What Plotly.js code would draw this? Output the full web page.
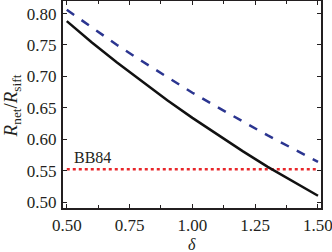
<!DOCTYPE html>
<html><head><meta charset="utf-8">
<script src="https://cdn.plot.ly/plotly-3.0.1.min.js"></script>
<style>html,body{margin:0;padding:0;background:#fff;}#c{width:332px;height:252px;}</style>
</head><body><div id="c"></div>
<script>
const delta = [0.5,0.6,0.7,0.8,0.9,1.0,1.1,1.2,1.3,1.4,1.5];
const solidNet = [0.788,0.754,0.722,0.692,0.662,0.634,0.607,0.581,0.556,0.533,0.510];
const dashedNet = [0.806,0.778,0.750,0.724,0.699,0.674,0.651,0.628,0.606,0.585,0.564];
const bb84Delta = [0.5,1.5];
const bb84Value = [0.552,0.552];
const xTicks = [0.5,0.75,1.0,1.25,1.5];
const xTickText = ['0.50','0.75','1.00','1.25','1.50'];
const yTicks = [0.5,0.55,0.6,0.65,0.7,0.75,0.8];
const yTickText = ['0.50','0.55','0.60','0.65','0.70','0.75','0.80'];

const fam = 'Times New Roman';
const tickFont = {family:fam, size:17, color:'#231f20'};
const titleFont = {family:fam, size:19, color:'#231f20'};
const deltaFont = {family:fam, size:16, color:'#231f20'};
const annFont = {family:fam, size:16, color:'#231f20'};
const traces = [
  {x:bb84Delta, y:bb84Value, mode:'lines', line:{color:'#e8262a', width:2.5, dash:'dot'}},
  {x:delta, y:dashedNet, mode:'lines', line:{color:'#2b3590', width:2.5, dash:'dash'}},
  {x:delta, y:solidNet, mode:'lines', line:{color:'#111111', width:2.5}}
];
const axisCommon = {showgrid:false, zeroline:false, showline:true, linecolor:'#231f20', linewidth:2,
  mirror:'ticks', ticks:'inside', ticklen:4, tickwidth:1, tickcolor:'#231f20', tickfont:tickFont,
  ticklabeloverflow:'allow'};
const layout = {
  width:332, height:252, margin:{l:63, r:11, t:1, b:44},
  paper_bgcolor:'#fff', plot_bgcolor:'#fff', showlegend:false, font:tickFont,
  xaxis:Object.assign({}, axisCommon, {range:[0.485,1.512], tickvals:xTicks, ticktext:xTickText,
    ticklabelstandoff:1,
    minor:{dtick:0.125, tick0:0.5, ticks:'inside', ticklen:3, tickcolor:'#231f20'}}),
  yaxis:Object.assign({}, axisCommon, {range:[0.4905,0.82], tickvals:yTicks, ticktext:yTickText,
    ticklabelstandoff:1}),
  annotations:[
    {x:0.52, y:0.552, xref:'x', yref:'y', text:'BB84', showarrow:false,
     xanchor:'left', yanchor:'bottom', yshift:1, font:annFont},
    {x:0.5, y:-0.174, xref:'paper', yref:'paper', text:'<i>δ</i>', showarrow:false,
     xanchor:'center', yanchor:'middle', font:deltaFont, borderpad:0},
    {x:-0.196, y:0.493, xref:'paper', yref:'paper', text:'<i>R</i><sub>net</sub>/<i>R</i><sub>sift</sub>',
     showarrow:false, textangle:-90, xanchor:'center', yanchor:'middle', font:titleFont, borderpad:0}
  ]
};
Plotly.newPlot('c', traces, layout, {staticPlot:true, displayModeBar:false});
</script></body></html>
